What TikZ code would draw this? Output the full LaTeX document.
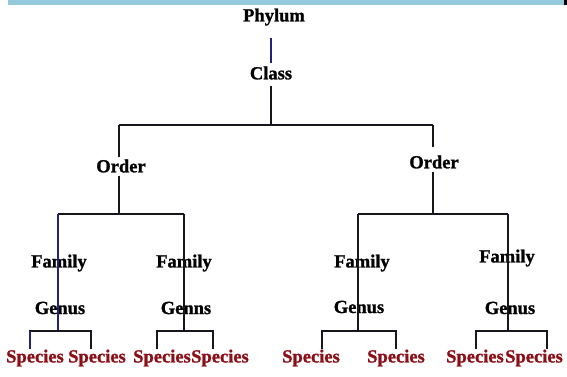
\documentclass[tikz,border=0pt]{standalone}
\usepackage{fontspec}
\setmainfont{Liberation Serif}
\newfontfamily\heavyserif[FakeBold=1.2]{Liberation Serif Bold}
\definecolor{bandblue}{HTML}{93CBDC}
\definecolor{navyline}{HTML}{22227A}
\definecolor{inkline}{HTML}{16161C}
\definecolor{speciesred}{HTML}{8C0E16}
\begin{document}
\begin{tikzpicture}[x=1pt,y=-1pt,
  rank/.style={font=\fontsize{18.5}{20}\heavyserif,inner sep=0pt},
  sp/.style={rank,text=speciesred},
  link/.style={line width=2pt,color=inkline}]
\useasboundingbox (0,0) rectangle (567,376);
\fill[bandblue] (8,0) rectangle (564,5);
\fill[black] (564,0) rectangle (567,5);
\node[rank] (phylum) at (274,17) {Phylum};
\node[rank] (class) at (271,73) {Class};
\node[rank] (orderL) at (121,166) {Order};
\node[rank] (orderR) at (434,162) {Order};
\foreach \n/\x/\y in {fA/59/263,fB/184/263,fC/362/263,fD/507/258}
\node[rank] (\n) at (\x,\y) {Family};
\foreach \n/\x/\y/\t in {gA/60/308/Genus,gB/186/308/Genns,gC/359/307/Genus,gD/510/308/Genus}
\node[rank] (\n) at (\x,\y) {\t};
\foreach \i/\x in {1/35,2/97,3/162,4/220,5/311,6/396,7/475,8/534}
\node[sp] (s\i) at (\x,358) {Species};
\coordinate (barL) at (119,125);
\coordinate (barR) at (433,125);
\coordinate (subA) at (58,214);
\coordinate (subB) at (184,214);
\coordinate (subC) at (358,214);
\coordinate (subD) at (508,214);
\foreach \i/\x in {1/30,2/91,3/157,4/213,5/322,6/396,7/476,8/547}
\coordinate (k\i) at (\x,331);
\draw[link,navyline,shorten <=12pt,shorten >=3pt] (phylum.south -| class) -- (class.north);
\draw[link,shorten <=6pt] (class.south) -- (class.south |- barL);
\draw[link] (barL) -- (barR);
\draw[link,shorten >=2pt] (barL) -- (barL |- orderL.north);
\draw[link,shorten <=3pt] (barL |- orderL.south) -- (barL |- subA);
\draw[link,shorten >=8pt] (barR) -- (barR |- orderR.north);
\draw[link,shorten <=3pt] (barR |- orderR.south) -- (barR |- subC);
\draw[link] (subA) -- (subB);
\draw[link] (subC) -- (subD);
\draw[link,navyline] (subA) -- (subA |- k1);
\draw[link] (subB) -- (subB |- k3);
\draw[link] (subC) -- (subC |- k5);
\draw[link] (subD) -- (subD |- k7);
\foreach \a/\b in {1/2,3/4,5/6,7/8}
\draw[link] (s\a.north -| k\a) -- (k\a) -- (k\b) -- (s\b.north -| k\b);
\draw[link,navyline] (s1.north -| k1) -- (k1);
\end{tikzpicture}
\end{document}
